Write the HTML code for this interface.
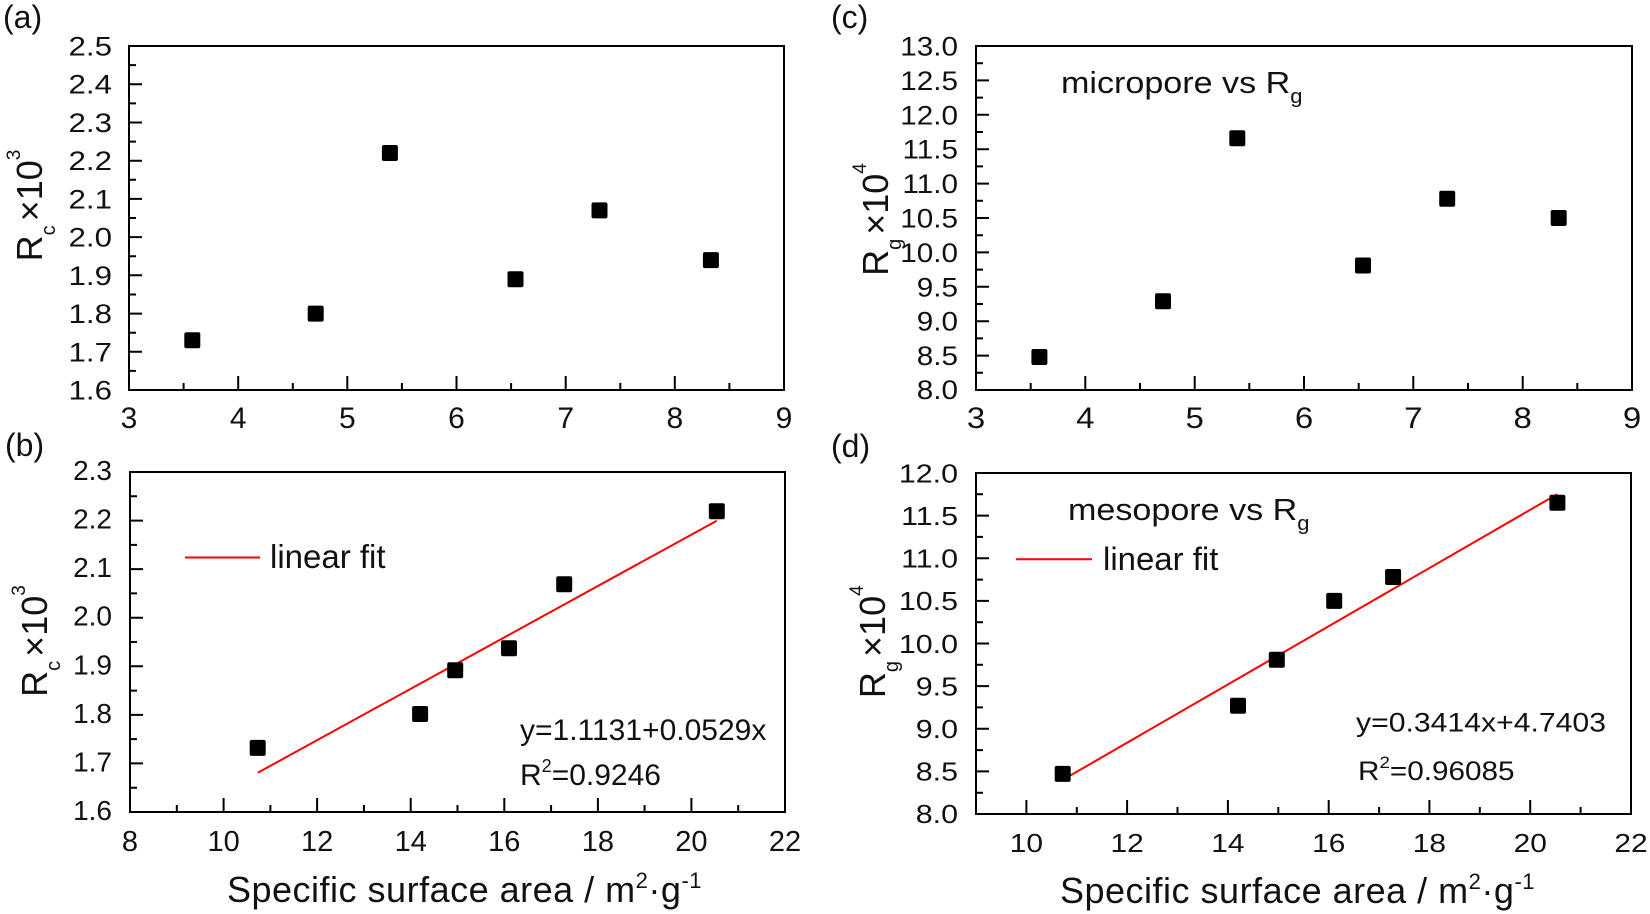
<!DOCTYPE html>
<html>
<head>
<meta charset="utf-8">
<style>
  html, body { margin: 0; padding: 0; background: #fff; }
  svg { display: block; }
  text { font-family: "Liberation Sans", Arial, sans-serif; fill: #111; }
</style>
</head>
<body>
<svg width="1650" height="914" viewBox="0 0 1650 914" xmlns="http://www.w3.org/2000/svg">
  <rect x="0" y="0" width="1650" height="914" fill="#fff"/>

  <!-- Panel labels -->
  <text x="3" y="28" font-size="32">(a)</text>
  <text x="5" y="456" font-size="32">(b)</text>
  <text x="831" y="28" font-size="32">(c)</text>
  <text x="831" y="457" font-size="32">(d)</text>

  <!-- ================= Panel (a) ================= -->
  <rect x="129" y="46" width="655" height="344" fill="none" stroke="#000" stroke-width="2"/>
  <path fill="none" stroke="#000" stroke-width="2" d="M129 351.8h13M129 313.6h13M129 275.3h13M129 237.1h13M129 198.9h13M129 160.7h13M129 122.5h13M129 84.2h13M129 370.9h7M129 332.7h7M129 294.5h7M129 256.2h7M129 218h7M129 179.8h7M129 141.6h7M129 103.4h7M129 65.1h7M238.2 390v-14M347.3 390v-14M456.5 390v-14M565.7 390v-14M674.8 390v-14M183.6 390v-7M292.8 390v-7M401.9 390v-7M511.1 390v-7M620.3 390v-7M729.4 390v-7"/>
  <g transform="translate(112,0) scale(1.18,1)" font-size="26.5" text-anchor="end">
    <text x="0" y="55.5">2.5</text>
    <text x="0" y="93.7">2.4</text>
    <text x="0" y="132">2.3</text>
    <text x="0" y="170.2">2.2</text>
    <text x="0" y="208.4">2.1</text>
    <text x="0" y="246.6">2.0</text>
    <text x="0" y="284.8">1.9</text>
    <text x="0" y="323.1">1.8</text>
    <text x="0" y="361.3">1.7</text>
    <text x="0" y="399.5">1.6</text>
  </g>
  <g font-size="30" text-anchor="middle">
    <text x="129" y="428">3</text>
    <text x="238.2" y="428">4</text>
    <text x="347.3" y="428">5</text>
    <text x="456.5" y="428">6</text>
    <text x="565.7" y="428">7</text>
    <text x="674.8" y="428">8</text>
    <text x="784" y="428">9</text>
  </g>
  <text transform="translate(42,205.5) rotate(-90)" text-anchor="middle" font-size="36">R<tspan font-size="20" dy="13">c</tspan><tspan dx="4" dy="-13">×10</tspan><tspan font-size="19" dy="-22">3</tspan></text>
  <g fill="#000">
    <rect x="184.3" y="332.3" width="16" height="16" rx="2"/>
    <rect x="307.7" y="305.6" width="16" height="16" rx="2"/>
    <rect x="381.9" y="145" width="16" height="16" rx="2"/>
    <rect x="507.5" y="271.2" width="16" height="16" rx="2"/>
    <rect x="591.5" y="202.4" width="16" height="16" rx="2"/>
    <rect x="702.9" y="252.1" width="16" height="16" rx="2"/>
  </g>

  <!-- ================= Panel (c) ================= -->
  <rect x="976" y="46" width="656" height="344" fill="none" stroke="#000" stroke-width="2"/>
  <path fill="none" stroke="#000" stroke-width="2" d="M976 80.4h13M976 114.8h13M976 149.2h13M976 183.6h13M976 218h13M976 252.4h13M976 286.8h13M976 321.2h13M976 355.6h13M976 63.2h7M976 97.6h7M976 132h7M976 166.4h7M976 200.8h7M976 235.2h7M976 269.6h7M976 304h7M976 338.4h7M976 372.8h7M1085.3 390v-14M1194.7 390v-14M1304 390v-14M1413.3 390v-14M1522.7 390v-14M1030.7 390v-7M1140 390v-7M1249.3 390v-7M1358.7 390v-7M1468 390v-7M1577.3 390v-7"/>
  <g transform="translate(958,0) scale(1.12,1)" font-size="26.5" text-anchor="end">
    <text x="0" y="55.5">13.0</text>
    <text x="0" y="89.9">12.5</text>
    <text x="0" y="124.3">12.0</text>
    <text x="0" y="158.7">11.5</text>
    <text x="0" y="193.1">11.0</text>
    <text x="0" y="227.5">10.5</text>
    <text x="0" y="261.9">10.0</text>
    <text x="0" y="296.3">9.5</text>
    <text x="0" y="330.7">9.0</text>
    <text x="0" y="365.1">8.5</text>
    <text x="0" y="399">8.0</text>
  </g>
  <g font-size="30" text-anchor="middle">
    <text transform="translate(976,428) scale(1.1,1)">3</text>
    <text transform="translate(1085.3,428) scale(1.1,1)">4</text>
    <text transform="translate(1194.7,428) scale(1.1,1)">5</text>
    <text transform="translate(1304,428) scale(1.1,1)">6</text>
    <text transform="translate(1413.3,428) scale(1.1,1)">7</text>
    <text transform="translate(1522.7,428) scale(1.1,1)">8</text>
    <text transform="translate(1632,428) scale(1.1,1)">9</text>
  </g>
  <text transform="translate(888,219.5) rotate(-90)" text-anchor="middle" font-size="36">R<tspan font-size="20" dy="13">g</tspan><tspan dx="4" dy="-13">×10</tspan><tspan font-size="19" dy="-22">4</tspan></text>
  <text transform="translate(1061,93) scale(1.1,1)" font-size="31">micropore vs R<tspan font-size="20" dy="10">g</tspan></text>
  <g fill="#000">
    <rect x="1031.4" y="349" width="16" height="16" rx="2"/>
    <rect x="1155" y="293.2" width="16" height="16" rx="2"/>
    <rect x="1229.3" y="130.2" width="16" height="16" rx="2"/>
    <rect x="1355" y="257.5" width="16" height="16" rx="2"/>
    <rect x="1439.2" y="190.7" width="16" height="16" rx="2"/>
    <rect x="1550.7" y="210" width="16" height="16" rx="2"/>
  </g>

  <!-- ================= Panel (b) ================= -->
  <rect x="130" y="472" width="655" height="340" fill="none" stroke="#000" stroke-width="2"/>
  <path fill="none" stroke="#000" stroke-width="2" d="M130 520.6h13M130 569.1h13M130 617.7h13M130 666.3h13M130 714.9h13M130 763.4h13M130 496.3h7M130 544.9h7M130 593.4h7M130 642h7M130 690.6h7M130 739.1h7M130 787.7h7M223.6 812v-14M317.1 812v-14M410.7 812v-14M504.3 812v-14M597.9 812v-14M691.4 812v-14M176.8 812v-7M270.4 812v-7M363.9 812v-7M457.5 812v-7M551.1 812v-7M644.6 812v-7M738.2 812v-7"/>
  <g font-size="28" text-anchor="end">
    <text x="112" y="480">2.3</text>
    <text x="112" y="528.6">2.2</text>
    <text x="112" y="577.1">2.1</text>
    <text x="112" y="625.7">2.0</text>
    <text x="112" y="674.3">1.9</text>
    <text x="112" y="722.9">1.8</text>
    <text x="112" y="771.4">1.7</text>
    <text x="112" y="820">1.6</text>
  </g>
  <g font-size="29" text-anchor="middle">
    <text x="130" y="851">8</text>
    <text x="223.6" y="851">10</text>
    <text x="317.1" y="851">12</text>
    <text x="410.7" y="851">14</text>
    <text x="504.3" y="851">16</text>
    <text x="597.9" y="851">18</text>
    <text x="691.4" y="851">20</text>
    <text x="785" y="851">22</text>
  </g>
  <text transform="translate(47,641) rotate(-90)" text-anchor="middle" font-size="36">R<tspan font-size="20" dy="13">c</tspan><tspan dx="4" dy="-13">×10</tspan><tspan font-size="19" dy="-22">3</tspan></text>
  <text x="227" y="902" font-size="36" letter-spacing="0.5">Specific surface area / m<tspan font-size="22" dy="-14">2</tspan><tspan dy="14">·g</tspan><tspan font-size="22" dy="-14">-1</tspan></text>
  <path d="M185 557.5H260" stroke="#ff0000" stroke-width="2"/>
  <text x="270" y="568" font-size="33">linear fit</text>
  <text x="520" y="740" font-size="30">y=1.1131+0.0529x</text>
  <text x="520" y="785" font-size="30">R<tspan font-size="18" dy="-13">2</tspan><tspan dy="13">=0.9246</tspan></text>
  <path d="M257.7 772.8L716.8 520.7" stroke="#ff0000" stroke-width="2" fill="none"/>
  <g fill="#000">
    <rect x="249.7" y="739.9" width="16" height="16" rx="2"/>
    <rect x="412.1" y="706" width="16" height="16" rx="2"/>
    <rect x="447.2" y="662.2" width="16" height="16" rx="2"/>
    <rect x="501" y="640.3" width="16" height="16" rx="2"/>
    <rect x="556.2" y="576.2" width="16" height="16" rx="2"/>
    <rect x="708.8" y="503.3" width="16" height="16" rx="2"/>
  </g>

  <!-- ================= Panel (d) ================= -->
  <rect x="976" y="473" width="655" height="341" fill="none" stroke="#000" stroke-width="2"/>
  <path fill="none" stroke="#000" stroke-width="2" d="M976 515.6h13M976 558.3h13M976 600.9h13M976 643.5h13M976 686.1h13M976 728.8h13M976 771.4h13M976 494.3h7M976 536.9h7M976 579.6h7M976 622.2h7M976 664.8h7M976 707.4h7M976 750.1h7M976 792.7h7M1026.4 814v-14M1127.1 814v-14M1227.9 814v-14M1328.7 814v-14M1429.4 814v-14M1530.2 814v-14M1076.8 814v-7M1177.5 814v-7M1278.3 814v-7M1379.1 814v-7M1479.8 814v-7M1580.6 814v-7"/>
  <g transform="translate(958,0) scale(1.17,1)" font-size="26" text-anchor="end">
    <text x="0" y="482.3">12.0</text>
    <text x="0" y="524.9">11.5</text>
    <text x="0" y="567.6">11.0</text>
    <text x="0" y="610.2">10.5</text>
    <text x="0" y="652.8">10.0</text>
    <text x="0" y="695.4">9.5</text>
    <text x="0" y="738.1">9.0</text>
    <text x="0" y="780.7">8.5</text>
    <text x="0" y="823">8.0</text>
  </g>
  <g font-size="26" text-anchor="middle">
    <text transform="translate(1026.4,852) scale(1.15,1)">10</text>
    <text transform="translate(1127.1,852) scale(1.15,1)">12</text>
    <text transform="translate(1227.9,852) scale(1.15,1)">14</text>
    <text transform="translate(1328.7,852) scale(1.15,1)">16</text>
    <text transform="translate(1429.4,852) scale(1.15,1)">18</text>
    <text transform="translate(1530.2,852) scale(1.15,1)">20</text>
    <text transform="translate(1631,852) scale(1.15,1)">22</text>
  </g>
  <text transform="translate(885,641.7) rotate(-90)" text-anchor="middle" font-size="36">R<tspan font-size="20" dy="13">g</tspan><tspan dx="4" dy="-13">×10</tspan><tspan font-size="19" dy="-22">4</tspan></text>
  <text x="1060" y="903" font-size="36" letter-spacing="0.5">Specific surface area / m<tspan font-size="22" dy="-14">2</tspan><tspan dy="14">·g</tspan><tspan font-size="22" dy="-14">-1</tspan></text>
  <text transform="translate(1068,520) scale(1.1,1)" font-size="31">mesopore vs R<tspan font-size="20" dy="10">g</tspan></text>
  <path d="M1016 559.3H1092" stroke="#ff0000" stroke-width="2"/>
  <text transform="translate(1103,570) scale(1.03,1)" font-size="32">linear fit</text>
  <text transform="translate(1356,731.7) scale(1.118,1)" font-size="27">y=0.3414x+4.7403</text>
  <text transform="translate(1358,780) scale(1.1,1)" font-size="27">R<tspan font-size="17" dy="-12">2</tspan><tspan dy="12">=0.96085</tspan></text>
  <path d="M1062.7 779.9L1557.4 494.1" stroke="#ff0000" stroke-width="2" fill="none"/>
  <g fill="#000">
    <rect x="1054.7" y="765.9" width="16" height="16" rx="2"/>
    <rect x="1230" y="697.7" width="16" height="16" rx="2"/>
    <rect x="1268.8" y="651.7" width="16" height="16" rx="2"/>
    <rect x="1326.2" y="592.9" width="16" height="16" rx="2"/>
    <rect x="1385.1" y="569" width="16" height="16" rx="2"/>
    <rect x="1549.4" y="494.8" width="16" height="16" rx="2"/>
  </g>
</svg>
</body>
</html>
